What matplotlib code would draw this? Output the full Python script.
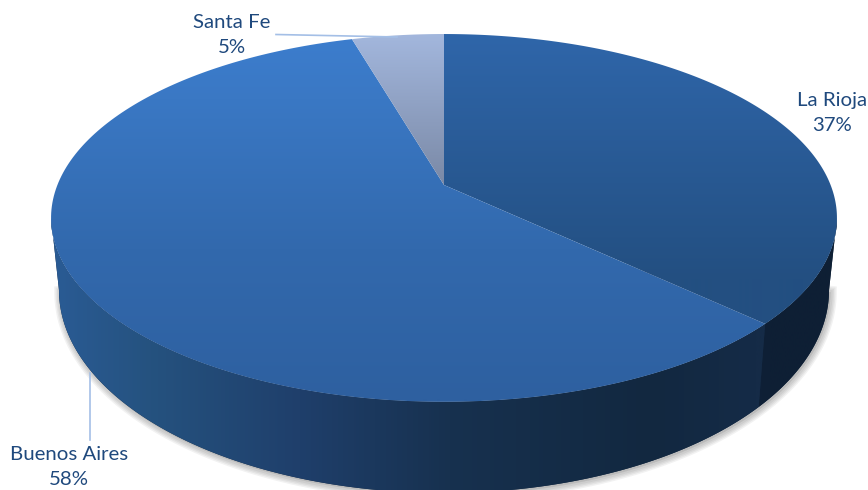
import numpy as np
import matplotlib
matplotlib.use("Agg")
import matplotlib.pyplot as plt
from matplotlib.patches import Polygon

# data
provinces = ["La Rioja", "Buenos Aires", "Santa Fe"]
shares = [37.0, 58.5, 4.5]
pct_labels = ["37%", "58%", "5%"]

TEXT_COLOR = "#1f497d"
LINE_COLOR = "#a4bfe6"

# perspective of the top face and of the bottom rim (in pixels)
CX = 444
K = 0.179
TOP = dict(y0=185, a=178, b=386.6)
BOT = dict(y0=253.7, a=196.5, b=378.8)

# vertical gradients of the top face, horizontal gradient of the wall
top_grads = {
    "La Rioja": ([34, 280], ["#2f66aa", "#234f81"]),
    "Buenos Aires": ([40, 100, 250, 400], ["#3c7dcd", "#3a78c4", "#3269ad", "#2e60a0"]),
    "Santa Fe": ([38, 185], ["#a2b6dc", "#7a89a6"]),
}
wall_grads = {
    "La Rioja": ([755, 770, 830], ["#0f2037", "#0e1f35", "#0e1f34"]),
    "Buenos Aires": ([55, 150, 300, 450, 650, 755], ["#2a5b94", "#25527f", "#1f3f6b", "#17314f", "#122840", "#152b47"]),
}


def rim(theta, p):
    den = 1 + K * np.cos(theta)
    x = CX + p["b"] * np.sin(theta) / den
    y = p["y0"] - p["a"] * np.cos(theta) / den
    return np.column_stack([x, y])


def gradient_fill(ax, poly, stops, colors, vertical=True, z=2):
    pos = np.linspace(0, 868 if not vertical else 490, 491)
    rgb = np.array([matplotlib.colors.to_rgb(c) for c in colors])
    img = np.column_stack([np.interp(pos, stops, rgb[:, i]) for i in range(3)])
    img = img[:, None, :] if vertical else img[None, :, :]
    patch = Polygon(poly, closed=True, fc="none", ec="none", zorder=z)
    ax.add_patch(patch)
    im = ax.imshow(img, extent=(0, 868, 490, 0), aspect="auto",
                   interpolation="bilinear", zorder=z)
    im.set_clip_path(patch)


fig = plt.figure(figsize=(8.68, 4.9), dpi=100)
ax = fig.add_axes([0, 0, 1, 1])

edges = np.concatenate([[0], np.cumsum(shares)]) / np.sum(shares) * 2 * np.pi
side = np.arcsin(K)
theta_r = np.pi / 2 + side
theta_l = 3 * np.pi / 2 - side
seam = edges[1]

# soft shadow under the bottom rim
full = np.linspace(theta_r, theta_l, 300)
shadow = np.vstack([rim(full, BOT) + [1.5, 2], [[CX, 250]]])
for lw in (9, 7, 5, 3):
    ax.add_patch(Polygon(shadow, closed=True, fc="#808080", ec="#000000",
                         lw=lw, alpha=0.05, zorder=1))

# wall, with a dark base so the pieces leave no hairline between them
base = np.vstack([rim(full, TOP), rim(full[::-1], BOT)])
ax.add_patch(Polygon(base, closed=True, fc="#14283f", ec="none", zorder=1.5))
for name, t0, t1 in [("La Rioja", theta_r, seam), ("Buenos Aires", seam, theta_l)]:
    t = np.linspace(t0, t1, 200)
    poly = np.vstack([rim(t, TOP), rim(t[::-1], BOT)])
    stops, colors = wall_grads[name]
    gradient_fill(ax, poly, stops, colors, vertical=False, z=2)

# top face
for i, name in enumerate(provinces):
    t = np.linspace(edges[i], edges[i + 1], 200)
    poly = np.vstack([[[CX, TOP["y0"]]], rim(t, TOP)])
    stops, colors = top_grads[name]
    gradient_fill(ax, poly, stops, colors, z=3)

# leader lines
ax.plot([276, 397], [34.5, 37], color=LINE_COLOR, lw=1.2, zorder=4)
ax.plot([89.5, 89.5], [373, 440], color=LINE_COLOR, lw=1.2, zorder=4)

# labels
label_pos = {"La Rioja": (832, 113), "Buenos Aires": (69, 467), "Santa Fe": (232, 35)}
for name, pct in zip(provinces, pct_labels):
    x, y = label_pos[name]
    ax.text(x, y, f"{name}\n{pct}", ha="center", va="center", family="Lato",
            fontsize=14.7, color=TEXT_COLOR, linespacing=1.58, zorder=5)

ax.set_xlim(0, 868)
ax.set_ylim(490, 0)
ax.axis("off")
fig.savefig("out.png", dpi=100)
